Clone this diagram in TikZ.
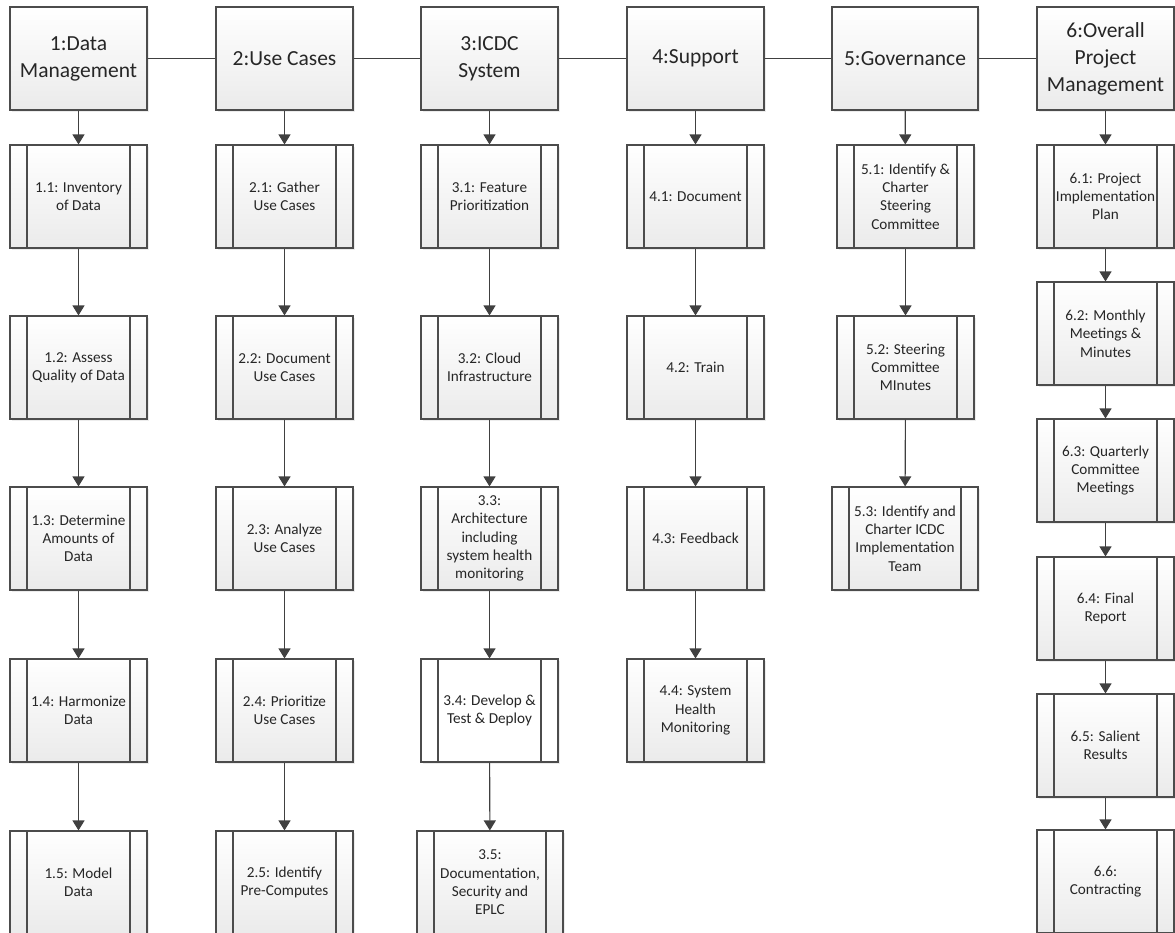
\documentclass[tikz,border=0pt]{standalone}
\usepackage{fontspec}
\setmainfont{Carlito}
\usetikzlibrary{arrows.meta,shadows}

\begin{document}
\begin{tikzpicture}[
    x=1pt, y=-1pt,
    % Node styles
    box/.style={draw=black!70, line width=1.1pt, rectangle, minimum width=137pt, minimum height=103pt, inner sep=2pt, align=center, text=black!85, drop shadow={shadow xshift=2pt, shadow yshift=-2pt, opacity=0.12, fill=black!60}},
    shaded/.style={top color=white, bottom color=black!8},
    phase/.style={box, shaded, font=\fontsize{21.5}{27}\selectfont},
    strips/.style={font=\fontsize{15.2}{18.3}\selectfont, path picture={
        \draw[black!70, line width=1.1pt]
          ([xshift=17pt]path picture bounding box.north west) -- ([xshift=17pt]path picture bounding box.south west)
          ([xshift=-17pt]path picture bounding box.north east) -- ([xshift=-17pt]path picture bounding box.south east);}},
    task/.style={box, shaded, strips},
    plaintask/.style={box, fill=white, strips},
    wide/.style={minimum width=146pt},
    link/.style={draw=black!75, line width=1.1pt},
    edge/.style={link, -{Triangle[length=10pt, width=12pt]}},
]
\useasboundingbox (0, 0) rectangle (1175, 932);

% ============================================================
% Phases
% ============================================================
\node[phase] (p1) at (78.5, 58.5) {1:Data\\Management};
\node[phase] (p2) at (284.5, 58.5) {2:Use Cases};
\node[phase] (p3) at (489.5, 58.5) {3:ICDC\\System};
\node[phase] (p4) at (695.5, 58.5) {4:Support};
\node[phase, wide] (p5) at (905, 58.5) {5:Governance};
\node[phase] (p6) at (1105.5, 58.5) {6:Overall\\Project\\Management};

% ============================================================
% 1: Data Management
% ============================================================
\node[task] (t11) at (78.5, 196.5) {1.1: Inventory\\of Data};
\node[task] (t12) at (78.5, 367.5) {1.2: Assess\\Quality of Data};
\node[task] (t13) at (78.5, 538.5) {1.3: Determine\\Amounts of\\Data};
\node[task] (t14) at (78.5, 710.5) {1.4: Harmonize\\Data};
\node[task] (t15) at (78.5, 882.5) {1.5: Model\\Data};

% ============================================================
% 2: Use Cases
% ============================================================
\node[task] (t21) at (284.5, 196.5) {2.1: Gather\\Use Cases};
\node[task] (t22) at (284.5, 367.5) {2.2: Document\\Use Cases};
\node[task] (t23) at (284.5, 538.5) {2.3: Analyze\\Use Cases};
\node[task] (t24) at (284.5, 710.5) {2.4: Prioritize\\Use Cases};
\node[task] (t25) at (284.5, 882.5) {2.5: Identify\\Pre-Computes};

% ============================================================
% 3: ICDC System
% ============================================================
\node[task] (t31) at (489.5, 196.5) {3.1: Feature\\Prioritization};
\node[task] (t32) at (489.5, 367.5) {3.2: Cloud\\Infrastructure};
\node[task] (t33) at (489.5, 538.5) {3.3:\\Architecture\\including\\system health\\monitoring};
\node[plaintask] (t34) at (489.5, 710.5) {3.4: Develop \&\\Test \& Deploy};
\node[task, wide] (t35) at (490, 882.5) {3.5:\\Documentation,\\Security and\\EPLC};

% ============================================================
% 4: Support
% ============================================================
\node[task] (t41) at (695.5, 196.5) {4.1: Document};
\node[task] (t42) at (695.5, 367.5) {4.2: Train};
\node[task] (t43) at (695.5, 538.5) {4.3: Feedback};
\node[task] (t44) at (695.5, 710.5) {4.4: System\\Health\\Monitoring};

% ============================================================
% 5: Governance
% ============================================================
\node[task] (t51) at (905.5, 196.5) {5.1: Identify \&\\Charter\\Steering\\Committee};
\node[task] (t52) at (905.5, 367.5) {5.2: Steering\\Committee\\MInutes};
\node[task, wide] (t53) at (905, 538.5) {5.3: Identify and\\Charter ICDC\\Implementation\\Team};

% ============================================================
% 6: Overall Project Management
% ============================================================
\node[task] (t61) at (1105.5, 196.5) {6.1: Project\\Implementation\\Plan};
\node[task] (t62) at (1105.5, 333.5) {6.2: Monthly\\Meetings \&\\Minutes};
\node[task] (t63) at (1105.5, 470.5) {6.3: Quarterly\\Committee\\Meetings};
\node[task] (t64) at (1105.5, 608.5) {6.4: Final\\Report};
\node[task] (t65) at (1105.5, 745.5) {6.5: Salient\\Results};
\node[task] (t66) at (1105.5, 881.5) {6.6:\\Contracting};

% ============================================================
% Edges (Phase -> Phase, Phase -> Tasks)
% ============================================================
\draw[link] (p1) -- (p2);
\draw[link] (p2) -- (p3);
\draw[link] (p3) -- (p4);
\draw[link] (p4) -- (p5);
\draw[link] (p5) -- (p6);

\draw[edge] (p1) -- (t11);
\draw[edge] (t11) -- (t12);
\draw[edge] (t12) -- (t13);
\draw[edge] (t13) -- (t14);
\draw[edge] (t14) -- (t15);

\draw[edge] (p2) -- (t21);
\draw[edge] (t21) -- (t22);
\draw[edge] (t22) -- (t23);
\draw[edge] (t23) -- (t24);
\draw[edge] (t24) -- (t25);

\draw[edge] (p3) -- (t31);
\draw[edge] (t31) -- (t32);
\draw[edge] (t32) -- (t33);
\draw[edge] (t33) -- (t34);
\draw[edge] (t34) -- (t35);

\draw[edge] (p4) -- (t41);
\draw[edge] (t41) -- (t42);
\draw[edge] (t42) -- (t43);
\draw[edge] (t43) -- (t44);

\draw[edge] (p5) -- (t51);
\draw[edge] (t51) -- (t52);
\draw[edge] (t52) -- (t53);

\draw[edge] (p6) -- (t61);
\draw[edge] (t61) -- (t62);
\draw[edge] (t62) -- (t63);
\draw[edge] (t63) -- (t64);
\draw[edge] (t64) -- (t65);
\draw[edge] (t65) -- (t66);

\end{tikzpicture}
\end{document}
